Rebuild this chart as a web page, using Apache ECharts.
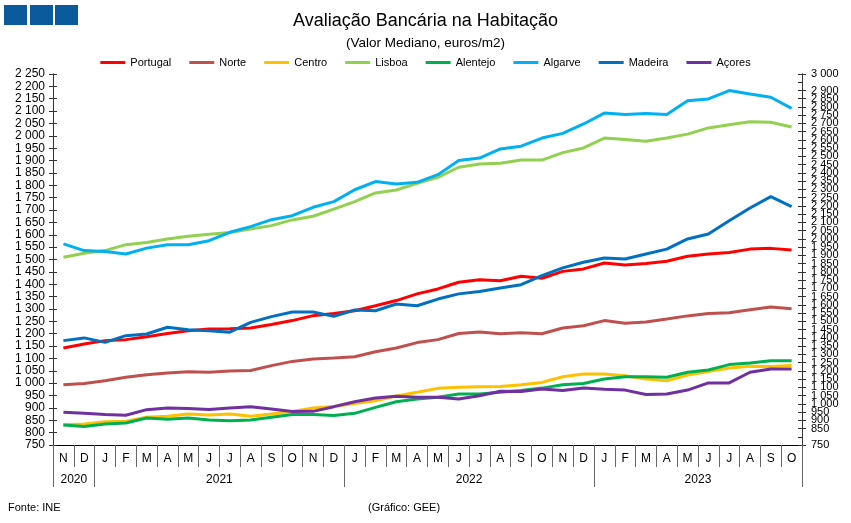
<!DOCTYPE html>
<html>
<head>
<meta charset="utf-8">
<script src="https://cdn.jsdelivr.net/npm/echarts@6/dist/echarts.min.js"></script>
<style>
  * { margin: 0; padding: 0; }
  body { background: #fff; }
</style>
</head>
<body>
<!-- container com o tamanho da janela -->
<div id="main" style="width: 851px;height: 523px;"></div>
<script>
  // meses de Nov 2020 a Out 2023
  var months = ['N','D','J','F','M','A','M','J','J','A','S','O','N','D','J','F','M','A','M','J','J','A','S','O','N','D','J','F','M','A','M','J','J','A','S','O'];
  var years = ['2020', '2021', '2022', '2023'];
  var monthsPerYear = [2, 12, 12, 10];

  var portugal = [1142,1158,1172,1176,1188,1201,1212,1219,1220, 1223,1237,1253,1273,1282,1293,1313,1334,1361, 1381,1408,1418,1414,1432,1424,1452,1462,1486, 1478,1484,1493,1513,1522,1528,1542,1545,1538];
  var norte    = [994,999,1010,1024,1034,1041,1046,1044,1049, 1051,1071,1088,1098,1102,1107,1127,1142,1164, 1176,1201,1207,1200,1204,1200,1223,1232,1253, 1242,1247,1259,1272,1282,1285,1297,1308,1301];
  var centro   = [832,835,844,846,862,866,875,871,875, 866,875,886,900,906,918,929,948,963, 979,983,986,987,994,1003,1026,1037,1037, 1030,1017,1010,1033,1047,1061,1068,1067,1071];
  var lisboa   = [1509,1525,1536,1560,1569,1583,1594,1602,1609, 1623,1637,1660,1675,1704,1734,1769,1781,1808, 1832,1873,1886,1889,1902,1902,1932,1951,1991, 1985,1978,1991,2007,2032,2045,2057,2055,2036];
  var alentejo = [831,825,835,839,859,854,859,851,848, 851,862,873,873,869,878,902,925,936, 943,956,956,963,970,980,994,999,1017, 1026,1026,1024,1044,1053,1075,1082,1091,1091];
  var algarve  = [1563,1536,1532,1522,1546,1560,1560,1576,1610, 1633,1661,1677,1711,1734,1782,1815,1805,1812, 1843,1900,1910,1947,1958,1991,2010,2048,2092, 2086,2090,2086,2142,2149,2183,2169,2156,2111];
  var madeira  = [1172,1183,1165,1192,1199,1226,1216,1212,1206, 1246,1269,1288,1288,1270,1296,1293,1320,1313, 1340,1361,1371,1385,1398,1435,1466,1489,1506, 1502,1522,1542,1583,1603,1657,1708,1754,1714];
  var acores   = [882,878,873,870,893,900,898,894,900, 905,896,885,886,905,925,940,947,943, 943,936,949,967,966,976,970,980,975, 972,954,956,972,1001,1001,1044,1057,1057];

  var names  = ['Portugal','Norte','Centro','Lisboa','Alentejo','Algarve','Madeira','Açores'];
  var values = [portugal, norte, centro, lisboa, alentejo, algarve, madeira, acores];
  var colors = ['#ff0000','#c0504d','#ffc000','#92d050','#00b050','#00b0f0','#0070c0','#7030a0'];

  // limites e meio de cada ano (em meses)
  var yearTicks = [0], yearMids = [];
  for (var k = 0; k < monthsPerYear.length; k++) {
    var a = yearTicks[k];
    yearTicks.push(a + monthsPerYear[k]);
    yearMids.push(a + monthsPerYear[k] / 2);
  }

  function fmt(v) {
    var s = String(v);
    return s.length > 3 ? s.slice(0, s.length - 3) + ' ' + s.slice(-3) : s;
  }

  var mycharts = echarts.init(document.getElementById('main'));
  var font = 'Liberation Sans';
  var option = {
    animation: false,
    backgroundColor: '#fff',
    textStyle: { fontFamily: font },
    title: [
      { text: 'Avaliação Bancária na Habitação', left: 'center', top: 7,
        textStyle: { fontSize: 18, fontWeight: 'normal', color: '#000', fontFamily: font } },
      { text: '(Valor Mediano, euros/m2)', left: 'center', top: 31,
        textStyle: { fontSize: 13.5, fontWeight: 'normal', color: '#000', fontFamily: font } },
      { text: 'Fonte: INE', left: 3, top: 497,
        textStyle: { fontSize: 11, fontWeight: 'normal', color: '#000', fontFamily: font } },
      { text: '(Gráfico: GEE)', left: 363, top: 497,
        textStyle: { fontSize: 11, fontWeight: 'normal', color: '#000', fontFamily: font } }
    ],
    graphic: [
      { type: 'rect', shape: { x: 4, y: 5, width: 23, height: 20 }, style: { fill: '#0a5a9c' } },
      { type: 'rect', shape: { x: 30, y: 5, width: 23, height: 20 }, style: { fill: '#0a5a9c' } },
      { type: 'rect', shape: { x: 55, y: 5, width: 23, height: 20 }, style: { fill: '#0a5a9c' } }
    ],
    legend: {
      data: names,
      top: 52,
      left: 'center',
      icon: 'rect',
      itemWidth: 25,
      itemHeight: 3,
      itemGap: 18,
      textStyle: { fontSize: 11, color: '#000', fontFamily: font }
    },
    grid: { left: 53, right: 49, top: 74, bottom: 78, containLabel: false },
    xAxis: [{
      type: 'category',
      data: months,
      boundaryGap: true,
      axisLine: { lineStyle: { color: '#000', width: 1 } },
      axisTick: { show: true, interval: 0, length: 22, lineStyle: { color: '#666' } },
      axisLabel: { interval: 0, margin: 8, fontSize: 12, color: '#000' },
      splitLine: { show: false }
    }, {
      type: 'value',
      position: 'bottom',
      offset: 22,
      min: 0,
      max: yearTicks[yearTicks.length - 1],
      axisLine: { show: false },
      axisTick: { show: true, length: 20, customValues: yearTicks, lineStyle: { color: '#666' } },
      axisLabel: {
        customValues: yearMids, margin: 7, fontSize: 12, color: '#000',
        formatter: function (v) { return years[yearMids.indexOf(v)] || ''; }
      },
      splitLine: { show: false }
    }],
    yAxis: [{
      type: 'value', position: 'left', min: 750, max: 2250, interval: 50,
      axisLine: { show: true, lineStyle: { color: '#333' } },
      axisTick: { show: true, length: 4, lineStyle: { color: '#333' } },
      axisLabel: { margin: 8, fontSize: 12, color: '#000', formatter: fmt, showMinLabel: true, showMaxLabel: true },
      splitLine: { show: false }
    }, {
      type: 'value', position: 'left', min: 750, max: 2250, interval: 50,
      axisLine: { show: true, lineStyle: { color: '#333' } },
      axisTick: { show: true, inside: true, length: 4, lineStyle: { color: '#333' } },
      axisLabel: { show: false },
      splitLine: { show: false }
    }, {
      type: 'value', position: 'right', min: 750, max: 3000, interval: 50,
      axisLine: { show: true, lineStyle: { color: '#333' } },
      axisTick: { show: true, length: 4, lineStyle: { color: '#333' } },
      axisLabel: {
        margin: 9, fontSize: 11, color: '#000', formatter: fmt,
        fontFamily: 'Liberation Sans Narrow, Liberation Sans',
        showMinLabel: true, showMaxLabel: true, hideOverlap: false
      },
      splitLine: { show: false }
    }, {
      type: 'value', position: 'right', min: 750, max: 3000, interval: 50,
      axisLine: { show: true, lineStyle: { color: '#333' } },
      axisTick: { show: true, inside: true, length: 4, lineStyle: { color: '#333' } },
      axisLabel: { show: false },
      splitLine: { show: false }
    }],
    series: names.map(function (n, i) {
      return {
        name: n,
        type: 'line',
        xAxisIndex: 0,
        yAxisIndex: 0,
        data: values[i],
        symbol: 'none',
        color: colors[i],
        lineStyle: { width: 3, color: colors[i] }
      };
    })
  };
  mycharts.setOption(option);
</script>
</body>
</html>
